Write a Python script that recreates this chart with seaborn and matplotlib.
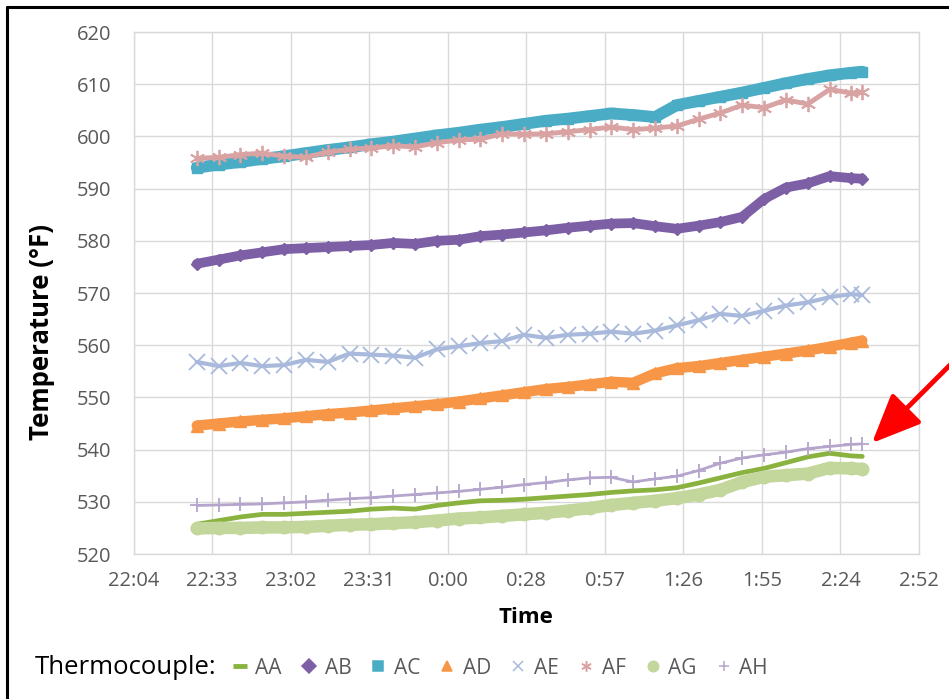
import numpy as np
import pandas as pd
import matplotlib
matplotlib.use("Agg")
import matplotlib.pyplot as plt
import seaborn as sns
from matplotlib.lines import Line2D

# Time stamps (clock time, run crosses midnight)
times = ["22:28", "22:36", "22:44", "22:52", "23:00", "23:08", "23:16", "23:24",
         "23:32", "23:40", "23:48", "23:56", "0:04", "0:12", "0:20", "0:28",
         "0:36", "0:44", "0:52", "1:00", "1:08", "1:16", "1:24", "1:32",
         "1:40", "1:48", "1:56", "2:04", "2:12", "2:20", "2:28", "2:32"]

aa = [525.7, 526.4, 527.1, 527.6, 527.6, 527.8, 528.0, 528.2, 528.6, 528.8, 528.6, 529.3,
      529.8, 530.2, 530.3, 530.5, 530.8, 531.1, 531.4, 531.8, 532.1, 532.3, 532.7, 533.6,
      534.6, 535.6, 536.4, 537.5, 538.6, 539.3, 538.8, 538.7]
ab = [575.6, 576.4, 577.2, 577.8, 578.4, 578.6, 578.8, 579.0, 579.2, 579.6, 579.4, 580.0,
      580.2, 580.9, 581.2, 581.6, 582.0, 582.5, 582.9, 583.3, 583.4, 582.8, 582.3, 582.9,
      583.6, 584.6, 588.0, 590.2, 591.0, 592.4, 592.0, 591.9]
ac = [594.0, 594.6, 595.1, 595.7, 596.2, 596.8, 597.4, 597.9, 598.5, 599.0, 599.6, 600.2,
      600.7, 601.3, 601.8, 602.4, 603.0, 603.4, 603.9, 604.4, 604.1, 603.7, 606.0, 606.8,
      607.6, 608.4, 609.3, 610.2, 611.0, 611.7, 612.2, 612.4]
ad = [544.6, 545.0, 545.4, 545.7, 546.0, 546.4, 546.8, 547.1, 547.5, 547.9, 548.3, 548.7,
      549.2, 549.8, 550.4, 551.0, 551.6, 552.0, 552.5, 553.0, 552.8, 554.6, 555.6, 556.0,
      556.6, 557.2, 557.8, 558.4, 559.0, 559.7, 560.5, 560.9]
ae = [556.8, 556.0, 556.6, 556.0, 556.2, 557.2, 556.8, 558.4, 558.2, 558.0, 557.6, 559.2,
      559.8, 560.4, 560.8, 562.0, 561.4, 562.0, 562.2, 562.6, 562.2, 562.8, 563.8, 564.8,
      566.0, 565.6, 566.6, 567.6, 568.2, 569.2, 569.8, 569.6]
af = [595.8, 596.0, 596.5, 596.8, 596.2, 596.0, 597.0, 597.5, 597.8, 598.2, 598.0, 598.8,
      599.3, 599.5, 600.5, 600.4, 600.5, 600.9, 601.3, 601.8, 601.3, 601.6, 602.0, 603.3,
      604.5, 606.0, 605.5, 607.0, 606.2, 609.0, 608.3, 608.5]
ag = [524.9, 525.0, 525.0, 525.1, 525.1, 525.2, 525.4, 525.6, 525.7, 525.9, 526.1, 526.4,
      526.8, 527.0, 527.3, 527.6, 527.9, 528.3, 528.8, 529.4, 529.8, 530.2, 530.7, 531.4,
      532.3, 533.8, 534.8, 535.1, 535.4, 536.5, 536.4, 536.3]
ah = [529.3, 529.4, 529.5, 529.6, 529.8, 530.0, 530.3, 530.6, 530.8, 531.1, 531.4, 531.7,
      532.0, 532.4, 532.8, 533.3, 533.7, 534.2, 534.6, 534.7, 533.8, 534.4, 534.9, 536.0,
      537.4, 538.4, 539.0, 539.5, 540.2, 540.6, 541.0, 541.1]

names = ["AA", "AB", "AC", "AD", "AE", "AF", "AG", "AH"]
series = [aa, ab, ac, ad, ae, af, ag, ah]
xtick_labels = ["22:04", "22:33", "23:02", "23:31", "0:00", "0:28",
                "0:57", "1:26", "1:55", "2:24", "2:52"]


def to_day(t):
    # Excel-style fraction of a day; hours before noon belong to the next day
    h, m = map(int, t.split(":"))
    mins = h * 60 + m
    if h < 12:
        mins += 1440
    return mins / 1440


x_days = [to_day(t) for t in times]
frames = []
for name, vals in zip(names, series):
    frames.append(pd.DataFrame({"Time": x_days, "Temperature": vals, "Thermocouple": name}))
df = pd.concat(frames, ignore_index=True)

styles = {
    "AA": dict(color="#8AB23F", lw=3.4, marker=None, ms=0, mew=0),
    "AB": dict(color="#7D5FA6", lw=7, marker="D", ms=6, mew=1),
    "AC": dict(color="#4BACC6", lw=8.5, marker="s", ms=7, mew=1),
    "AD": dict(color="#F79646", lw=7.5, marker="^", ms=8, mew=1),
    "AE": dict(color="#A8B9DC", lw=3, marker="x", ms=11, mew=1.3),
    "AF": dict(color="#D9A3A3", lw=3.5, marker=(6, 2, 0), ms=11, mew=1.3),
    "AG": dict(color="#C3D69B", lw=9, marker="o", ms=9, mew=1),
    "AH": dict(color="#B5A5CC", lw=2, marker="+", ms=10, mew=1.3),
}

sns.set_theme(style="white")
plt.rcParams["font.family"] = ["Open Sans", "DejaVu Sans"]

fig = plt.figure(figsize=(9.49, 6.99), dpi=100)
ax = fig.add_axes([0.1407, 0.2074, 0.8277, 0.7468])

for name in names:
    st = styles[name]
    sub = df[df["Thermocouple"] == name]
    kw = dict(color=st["color"], linewidth=st["lw"])
    if st["marker"] is not None:
        kw.update(marker=st["marker"], markersize=st["ms"],
                  markeredgecolor=st["color"], markerfacecolor=st["color"],
                  markeredgewidth=st["mew"])
    sns.lineplot(data=sub, x="Time", y="Temperature", ax=ax, legend=False, **kw)

ax.set_xlim(0.92, 1.12)
ax.set_xticks(np.linspace(0.92, 1.12, len(xtick_labels)))
ax.set_xticklabels(xtick_labels)
ax.set_ylim(520, 620)
ax.set_yticks(np.arange(520, 621, 10))

ax.grid(True, color="#D9D9D9", linewidth=1)
ax.set_axisbelow(True)
for sp in ax.spines.values():
    sp.set_color("#D9D9D9")
    sp.set_linewidth(1)
ax.tick_params(axis="both", length=0, labelcolor="#595959", labelsize=14.5)
ax.tick_params(axis="x", pad=12)
ax.tick_params(axis="y", pad=16)

ax.set_xlabel("Time", fontsize=16, fontweight="bold", color="black")
ax.set_ylabel("Temperature (°F)", fontsize=18.5, fontweight="bold", color="black")
ax.xaxis.set_label_coords(0.5, -0.102)
ax.yaxis.set_label_coords(-0.1, 0.425)

# legend row at the bottom
fig.text(35 / 949, 1 - 668 / 699, "Thermocouple:", fontsize=18.5, color="black",
         ha="left", va="center")
handles = []
for name in names:
    st = styles[name]
    if st["marker"] is None:
        handles.append(Line2D([], [], color=st["color"], marker="_", linestyle="None",
                              markersize=10, markeredgewidth=3.5))
    else:
        handles.append(Line2D([], [], color=st["color"], marker=st["marker"], linestyle="None",
                              markersize=7.5, markeredgewidth=1.1,
                              markeredgecolor=st["color"], markerfacecolor=st["color"]))
fig.legend(handles, names, loc="center left", bbox_to_anchor=(222 / 949, 1 - 668 / 699),
           ncol=8, frameon=False, fontsize=15, labelcolor="#595959",
           handlelength=0.7, handletextpad=0.4, columnspacing=0.95, borderpad=0)

# outer frame (top and left edges visible in the reference)
fig.add_artist(Line2D([7 / 949, 1], [1 - 7 / 699, 1 - 7 / 699], transform=fig.transFigure,
                      color="black", linewidth=2.2))
fig.add_artist(Line2D([7 / 949, 7 / 949], [0, 1 - 7 / 699], transform=fig.transFigure,
                      color="black", linewidth=2.2))

# red arrow pointing at the end of the lower traces
ax.annotate("", xy=(870 / 949, 1 - 445 / 699), xycoords="figure fraction",
            xytext=(955 / 949, 1 - 360 / 699), textcoords="figure fraction",
            arrowprops=dict(arrowstyle="-|>,head_length=1.5,head_width=0.65",
                            mutation_scale=20, color="#FF0000", lw=3.5),
            annotation_clip=False)

fig.savefig("out.png", dpi=100)
plt.close(fig)
